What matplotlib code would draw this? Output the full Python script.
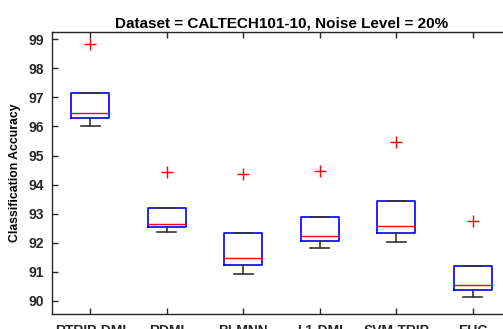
import matplotlib
matplotlib.use("Agg")
import matplotlib.pyplot as plt

plt.rcParams['font.family'] = ['Liberation Sans', 'DejaVu Sans']

# Box statistics
methods = ["RTRIP-DMI", "RDMI", "BLMNN", "L1-DMI", "SVM-TRIP", "EUC"]
q1 = [96.28, 92.55, 91.25, 92.06, 92.33, 90.38]
med = [96.46, 92.66, 91.48, 92.24, 92.56, 90.56]
q3 = [97.15, 93.19, 92.32, 92.88, 93.42, 91.19]
whislo = [96.03, 92.36, 90.94, 91.82, 92.03, 90.15]
whishi = [97.15, 93.19, 92.32, 92.88, 93.42, 91.19]
outliers = [98.83, 94.45, 94.38, 94.47, 95.48, 92.75]

stats = []
for i in range(len(methods)):
    stats.append(dict(label=methods[i], q1=q1[i], med=med[i], q3=q3[i],
                      whislo=whislo[i], whishi=whishi[i], fliers=[outliers[i]]))

fig = plt.figure(figsize=(5.03, 3.29), dpi=100)
ax = fig.add_axes([0.1034, 0.0447, 0.9126, 0.8589])

ax.bxp(stats, widths=0.5, showfliers=True,
       boxprops=dict(color="#0000ff", linewidth=1.2),
       medianprops=dict(color="#ff0000", linewidth=1.0),
       whiskerprops=dict(color="#333333", linewidth=1.2),
       capprops=dict(color="#333333", linewidth=1.2),
       capwidths=0.25,
       flierprops=dict(marker="+", markeredgecolor="#ff0000", markersize=8,
                       markeredgewidth=1.0, linestyle="none"))

ax.set_xlim(0.5, 6.5)
ax.set_ylim(89.54, 99.26)
ax.set_yticks([90, 91, 92, 93, 94, 95, 96, 97, 98, 99])
ax.tick_params(direction="in", length=4, width=1, colors="#262626",
               top=True, right=False, labelsize=10, pad=6)
ax.tick_params(axis="x", pad=7)
for lab in ax.get_xticklabels() + ax.get_yticklabels():
    lab.set_fontweight("bold")
for s in ax.spines.values():
    s.set_color("#262626")
    s.set_linewidth(1.0)
ax.spines["right"].set_visible(False)

ax.set_ylabel("Classification Accuracy", fontsize=8.8, fontweight="bold", labelpad=5.5)
ax.set_title("Dataset = CALTECH101-10, Noise Level = 20%", fontsize=11,
             fontweight="bold", pad=3)

fig.savefig("out.png", dpi=100)
